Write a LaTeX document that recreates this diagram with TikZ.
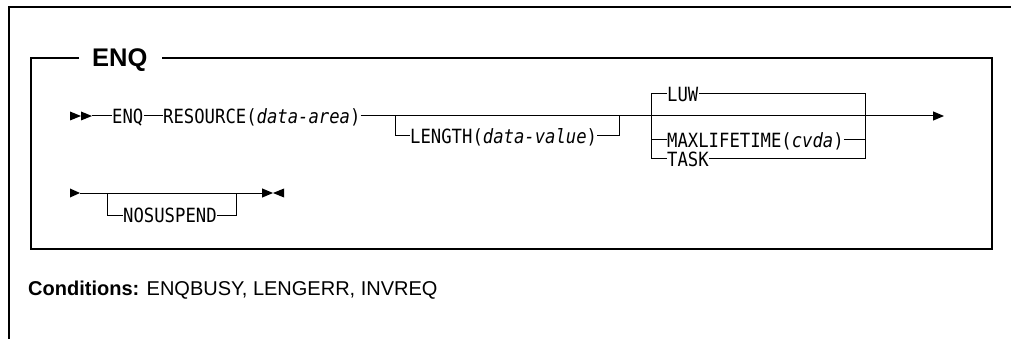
\documentclass[tikz,border=0pt]{standalone}
\usepackage{fontspec}
\setmainfont{Liberation Sans}
\newfontfamily\monof[FakeStretch=0.88,ItalicFont={DejaVu Sans Mono Oblique}]{DejaVu Sans Mono}
\usetikzlibrary{arrows.meta}
\tikzset{
  mtext/.style={inner sep=0pt, anchor=west, font=\monof\fontsize{19.6}{22}\selectfont, text height=14.2pt, text depth=0pt},
  rail/.style={line width=1pt},
  frame/.style={line width=1.4pt},
  endarrow/.style={-{Triangle[length=11pt,width=9pt]}},
}
\begin{document}
\begin{tikzpicture}[x=1pt,y=-1pt]
\useasboundingbox (0,0) rectangle (1011,339);
% outer frame
\draw[frame] (9,339) -- (9,7) -- (1011,7);
% title and inner box
\node[font=\bfseries\fontsize{25.5}{28}\selectfont, inner sep=0pt, anchor=west, text height=18pt, text depth=0pt] (title) at (92,58) {ENQ};
\draw[frame] ([xshift=-13pt]title.west) -- (31,58) -- (31,249) -- (992,249) -- (992,58) -- ([xshift=14pt]title.east);

% ---- line 1
\fill (70,111.5) -- (81,116) -- (70,120.5) -- cycle;
\fill (81,111.5) -- (92,116) -- (81,120.5) -- cycle;
\coordinate (a1) at (92,116);
\node[mtext] (enq) at (112,116) {ENQ};
\node[mtext] (res) at (163,116) {RESOURCE(\textit{data-area})};
\coordinate (e1) at (944,116);
\draw[rail] (a1) -- (enq.west);
\draw[rail] (enq.east) -- (res.west);
\draw[rail, endarrow] (res.east) -- (e1);

% LENGTH branch
\coordinate (lb1) at (395,116);
\coordinate (lb2) at (619,116);
\node[mtext] (len) at (410,136) {LENGTH(\textit{data-value})};
\draw[rail] (lb1) |- (len.west);
\draw[rail] (len.east) -| (lb2);

% choice LUW / MAXLIFETIME / TASK
\coordinate (cl) at (651,140);
\coordinate (cr) at (865,140);
\coordinate (clt) at (651,94);
\coordinate (clb) at (651,159);
\coordinate (crt) at (865,94);
\coordinate (crb) at (865,159);
\node[mtext] (luw) at (667,94) {LUW};
\node[mtext] (max) at (667,140) {MAXLIFETIME(\textit{cvda})};
\node[mtext] (task) at (667,159) {TASK};
\draw[rail] (luw.west) -- (clt) -- (clb) -- (task.west);
\draw[rail] (task.east) -- (crb) -- (crt) -- (luw.east);
\draw[rail] (cl) -- (max.west);
\draw[rail] (max.east) -- (cr);

% ---- line 2
\fill (70,188.5) -- (80,193) -- (70,197.5) -- cycle;
\coordinate (s2) at (80,193);
\coordinate (e2) at (273,193);
\draw[rail, endarrow] (s2) -- (e2);
\fill (284,188.5) -- (273,193) -- (284,197.5) -- cycle;
\coordinate (nb1) at (107,193);
\coordinate (nb2) at (236,193);
\node[mtext] (nos) at (123,215) {NOSUSPEND};
\draw[rail] (nb1) |- (nos.west);
\draw[rail] (nos.east) -| (nb2);

% conditions
\node[anchor=base west, inner sep=0pt, font=\fontsize{20}{24}\selectfont] (cond) at (28,295) {\textbf{Conditions:} ENQBUSY, LENGERR, INVREQ};
\end{tikzpicture}
\end{document}
